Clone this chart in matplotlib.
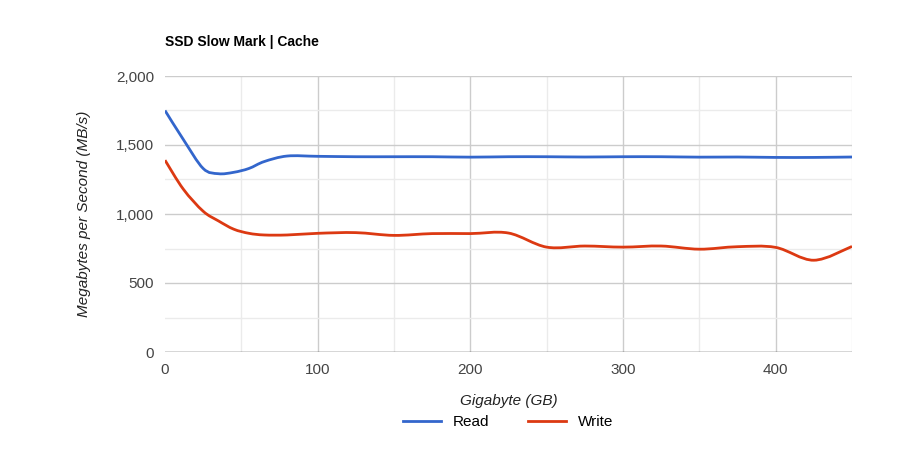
import matplotlib
matplotlib.use("Agg")
import matplotlib.pyplot as plt
from matplotlib.path import Path
from matplotlib.patches import PathPatch
from matplotlib.lines import Line2D
import numpy as np

plt.rcParams['font.family'] = ['Liberation Sans', 'DejaVu Sans']

gb = [0, 12, 25, 35, 45, 55, 65, 80, 100, 125, 150, 175, 200, 225, 250, 275, 300, 325, 350, 375, 400, 425, 450]
read = [1750, 1540, 1330, 1292, 1302, 1330, 1380, 1420, 1418, 1415, 1415, 1415, 1412, 1415, 1415, 1413, 1415, 1415, 1412, 1413, 1410, 1410, 1413]
write = [1390, 1180, 1020, 950, 890, 860, 848, 848, 860, 865, 845, 858, 858, 862, 760, 768, 760, 768, 745, 763, 758, 665, 765]

def smooth_path(x, y):
    x = np.asarray(x, float); y = np.asarray(y, float)
    verts = [(x[0], y[0])]; codes = [Path.MOVETO]
    n = len(x)
    for i in range(n - 1):
        x0, y0 = (x[i-1], y[i-1]) if i > 0 else (x[i], y[i])
        x3, y3 = (x[i+2], y[i+2]) if i + 2 < n else (x[i+1], y[i+1])
        c1 = (x[i] + (x[i+1] - x0) / 6, y[i] + (y[i+1] - y0) / 6)
        c2 = (x[i+1] - (x3 - x[i]) / 6, y[i+1] - (y3 - y[i]) / 6)
        verts += [c1, c2, (x[i+1], y[i+1])]
        codes += [Path.CURVE4] * 3
    return Path(verts, codes)

fig = plt.figure(figsize=(9.21, 4.51), dpi=100)
ax = fig.add_axes([165/921, 1 - 352/451, (852-165)/921, (352-76)/451])
ax.set_xlim(0, 450); ax.set_ylim(0, 2000)
for v in range(50, 451, 100):
    ax.axvline(v, color="#ebebeb", lw=1, zorder=0)
for v in range(100, 451, 100):
    ax.axvline(v, color="#cccccc", lw=1, zorder=0)
for v in range(250, 2000, 500):
    ax.axhline(v, color="#ebebeb", lw=1, zorder=0)
for v in range(500, 2001, 500):
    ax.axhline(v, color="#cccccc", lw=1, zorder=0)
ax.axhline(0, color="#333333", lw=1, zorder=1)
for s in ax.spines.values():
    s.set_visible(False)
ax.tick_params(length=0, labelsize=11, labelcolor="#444444", pad=8)
ax.set_xticks([0, 100, 200, 300, 400])
ax.set_yticks([0, 500, 1000, 1500, 2000])
ax.set_yticklabels(["0", "500", "1,000", "1,500", "2,000"])

ax.add_patch(PathPatch(smooth_path(gb, read), fill=False, ec="#3366cc", lw=2, zorder=3))
ax.add_patch(PathPatch(smooth_path(gb, write), fill=False, ec="#dc3912", lw=2, zorder=3))

ax.set_xlabel("Gigabyte (GB)", fontsize=11, style="italic", color="#222222", labelpad=12)
ax.set_ylabel("Megabytes per Second (MB/s)", fontsize=11, style="italic", color="#222222", labelpad=18)
fig.text(165/921, 1 - 42/451, "SSD Slow Mark | Cache", fontsize=10, fontweight="bold", va="center")

handles = [Line2D([], [], color="#3366cc", lw=2), Line2D([], [], color="#dc3912", lw=2)]
fig.legend(handles, ["Read", "Write"], loc="center", bbox_to_anchor=(508/921, 1 - 422/451),
           ncol=2, frameon=False, fontsize=11, handlelength=2.5, columnspacing=2.5)
fig.savefig("out.png", dpi=100)
